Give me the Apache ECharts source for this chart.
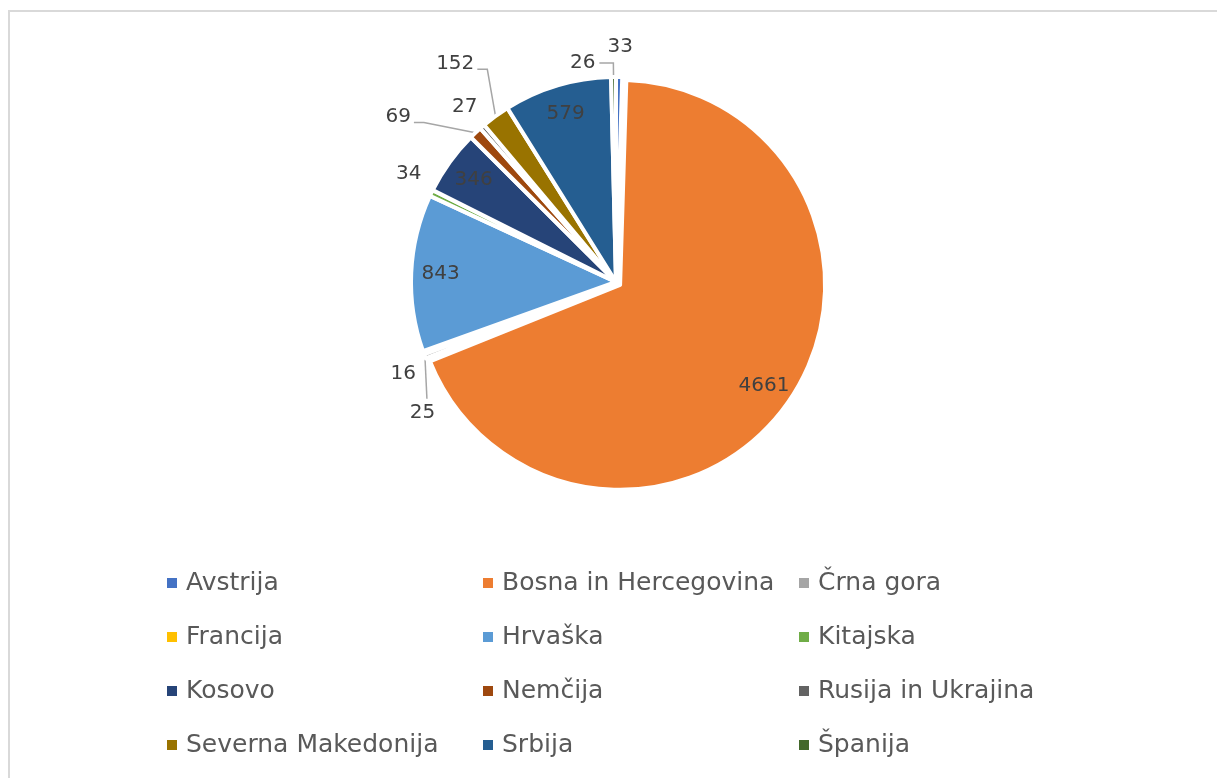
<!DOCTYPE html>
<html>
<head>
<meta charset="utf-8">
<script src="https://cdn.jsdelivr.net/npm/echarts@6/dist/echarts.min.js"></script>
<style>
html,body{margin:0;padding:0;background:#fff;}
#chart{width:1217px;height:778px;}
</style>
</head>
<body>
<div id="chart"></div>
<script>
const categories = ['Avstrija','Bosna in Hercegovina','Črna gora','Francija','Hrvaška','Kitajska','Kosovo','Nemčija','Rusija in Ukrajina','Severna Makedonija','Srbija','Španija'];
const values = [33, 4661, 25, 16, 843, 34, 346, 69, 27, 152, 579, 26];
const colors = ['#4472C4','#ED7D31','#A5A5A5','#FFC000','#5B9BD5','#70AD47','#264478','#9E480E','#636363','#997300','#255E91','#43682B'];
const legendCol1 = ['Avstrija','Francija','Kosovo','Severna Makedonija'];
const legendCol2 = ['Bosna in Hercegovina','Hrvaška','Nemčija','Srbija'];
const legendCol3 = ['Črna gora','Kitajska','Rusija in Ukrajina','Španija'];
const insideThreshold = 200;
const explodedName = 'Bosna in Hercegovina';

// label-line styling for the small outside labels (leader lengths, visibility, nudges)
const outsideLabelStyle = {
  'Avstrija':           { length: 30, length2: 0,  line: false, dist: -12 },
  'Španija':            { length: 14, length2: 14, line: true,  dist: 4 },
  'Severna Makedonija': { length: 48, length2: 6,  line: true,  dist: 4, dx: 17, dy: -14, elbow: true },
  'Rusija in Ukrajina': { length: 18, length2: 0,  line: false, dist: 0, dx: 7, dy: -6 },
  'Nemčija':            { length: 14, length2: 36, line: true,  dist: 4, dx: -15, dy: -6, elbow: true },
  'Kitajska':           { length: 22, length2: 0,  line: false, dist: -5, dx: 5, dy: -10 },
  'Francija':           { length: 8,  length2: 0,  line: false, dist: 0, dy: 18 },
  'Črna gora':          { length: 4,  length2: 0,  line: true,  dist: 0, dx: 14, dy: 55, vertical: true }
};

const FONT = 'DejaVu Sans';
const center = [616, 282];
const R = 205;

const mainData = categories.map((c, i) => {
  const small = values[i] < insideThreshold;
  const s = outsideLabelStyle[c] || { length: 14, length2: 10, line: true, dist: 5 };
  return {
    name: c,
    value: values[i],
    selected: c === explodedName,
    itemStyle: { color: colors[i] },
    label: { show: small, distanceToLabelLine: s.dist },
    labelLine: { show: small && s.line, length: s.length, length2: s.length2 }
  };
});
const labelData = categories.map((c, i) => ({
  name: c + ' ',
  value: values[i],
  selected: c === explodedName,
  label: { show: values[i] >= insideThreshold }
}));

function legendCol(data, left) {
  return {
    orient: 'vertical', left: left, top: 563, data: data,
    icon: 'rect', itemWidth: 12, itemHeight: 12, itemGap: 24,
    selectedMode: false,
    textStyle: { fontFamily: FONT, fontSize: 25, color: '#595959', lineHeight: 30, padding: [0,0,0,3] }
  };
}

function layoutLabel(p) {
  if (p.seriesIndex !== 0) return {};
  const s = outsideLabelStyle[categories[p.dataIndex]];
  if (!s) return {};
  const dx = s.dx || 0, dy = s.dy || 0;
  const out = { dx: dx, dy: dy };
  const pts = p.labelLinePoints;
  if (pts && pts.length && (s.elbow || s.vertical)) {
    const r = p.labelRect;
    const start = pts[0];
    if (s.vertical) {
      out.labelLinePoints = [start, [start[0] + 2, r.y + dy - 4]];
    } else {
      const endX = r.x + r.width + dx + 3;
      const endY = r.y + r.height / 2 + dy + 6;
      out.labelLinePoints = [start, [endX + 10, endY], [endX, endY]];
    }
  }
  return out;
}

const chart = echarts.init(document.getElementById('chart'), null, {renderer: 'canvas'});
chart.setOption({
  animation: false,
  backgroundColor: '#ffffff',
  graphic: [{
    type: 'rect', shape: { x: 9, y: 11, width: 1400, height: 1000 },
    style: { fill: 'none', stroke: '#d9d9d9', lineWidth: 2 }, silent: true, z: -1
  }],
  legend: [legendCol(legendCol1, 160), legendCol(legendCol2, 476), legendCol(legendCol3, 792)],
  series: [{
    type: 'pie',
    center: center,
    radius: R,
    startAngle: 90,
    clockwise: true,
    selectedMode: 'single',
    selectedOffset: 5,
    avoidLabelOverlap: false,
    minShowLabelAngle: 0,
    itemStyle: { borderColor: '#ffffff', borderWidth: 4 },
    label: { position: 'outside', formatter: '{c}', fontFamily: FONT, fontSize: 20, color: '#404040' },
    labelLine: { lineStyle: { color: '#a6a6a6', width: 1.5 } },
    labelLayout: layoutLabel,
    emphasis: { disabled: true },
    data: mainData
  }, {
    type: 'pie',
    center: center,
    radius: [140, R],
    startAngle: 90,
    clockwise: true,
    selectedMode: 'single',
    selectedOffset: 5,
    silent: true,
    minShowLabelAngle: 0,
    itemStyle: { color: 'rgba(0,0,0,0)', borderWidth: 0 },
    label: { position: 'inside', formatter: '{c}', fontFamily: FONT, fontSize: 20, color: '#404040' },
    labelLine: { show: false },
    emphasis: { disabled: true },
    data: labelData
  }]
});
</script>
</body>
</html>
